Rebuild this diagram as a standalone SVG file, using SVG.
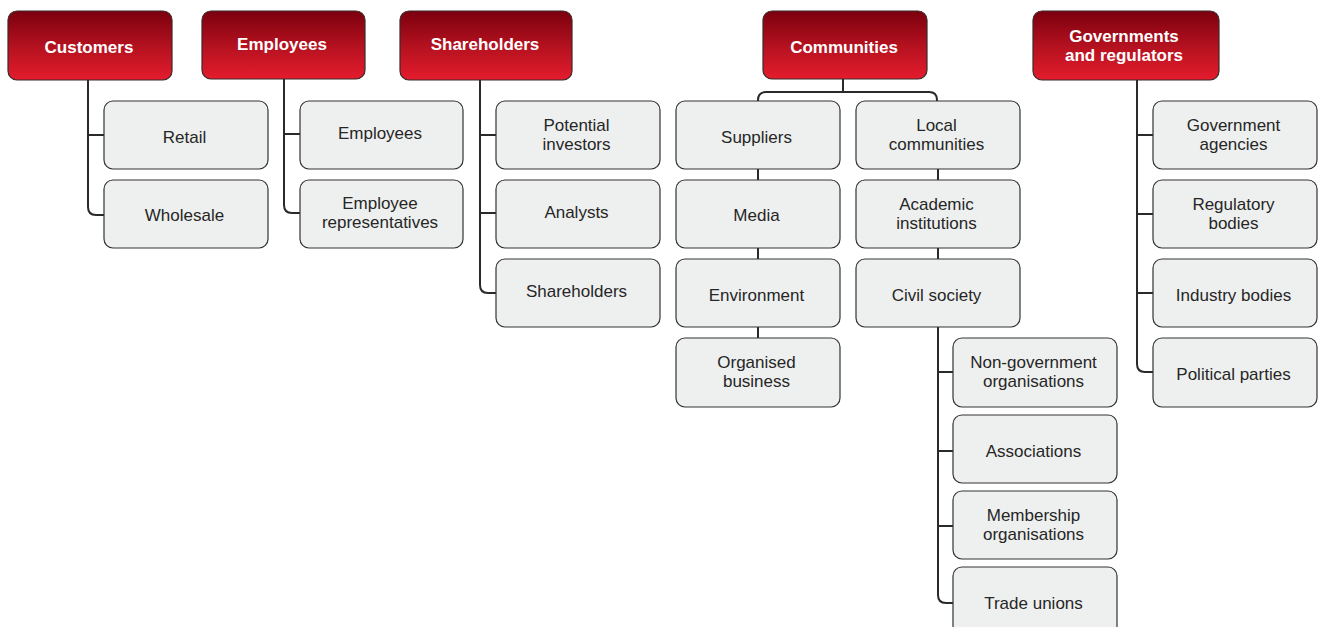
<svg xmlns="http://www.w3.org/2000/svg" width="1322" height="627" viewBox="0 0 1322 627">
  <defs>
    <linearGradient id="redGrad" x1="0" y1="0" x2="0" y2="1">
      <stop offset="0" stop-color="#7b000e"/>
      <stop offset="0.5" stop-color="#b3111f"/>
      <stop offset="1" stop-color="#e41c2d"/>
    </linearGradient>
    <style>
      .head rect { fill: url(#redGrad); stroke: #3a2a2a; stroke-width: 1.2; }
      .head text { fill: #ffffff; font-family: "Liberation Sans", Arial, sans-serif; font-weight: bold; font-size: 17px; text-anchor: middle; }
      .node rect { fill: #eef0ef; stroke: #333333; stroke-width: 1.2; }
      .node text { fill: #262626; font-family: "Liberation Sans", Arial, sans-serif; font-size: 17px; text-anchor: middle; }
      .conn path { fill: none; stroke: #2a2a2a; stroke-width: 2; }
    </style>
  </defs>
  <rect width="1322" height="627" fill="#ffffff"/>

  <!-- connectors -->
  <g class="conn" id="connectors">
    <!-- Customers -->
    <path d="M88 80 V207 Q88 215 96 215 H104"/>
    <path d="M88 135 H104"/>
    <!-- Employees -->
    <path d="M284 79 V205 Q284 213 292 213 H300"/>
    <path d="M284 134 H300"/>
    <!-- Shareholders -->
    <path d="M480 80 V285 Q480 293 488 293 H496"/>
    <path d="M480 135 H496"/>
    <path d="M480 213 H496"/>
    <!-- Communities -->
    <path d="M843 79 V92"/>
    <path d="M758 101 V100 Q758 92 766 92 H929 Q937 92 937 100 V101"/>
    <path d="M758 169 V180"/>
    <path d="M758 248 V259"/>
    <path d="M758 327 V338"/>
    <path d="M938 169 V180"/>
    <path d="M938 248 V259"/>
    <path d="M938 327 V595 Q938 603 946 603 H953"/>
    <path d="M938 372 H953"/>
    <path d="M938 451 H953"/>
    <path d="M938 526 H953"/>
    <!-- Governments and regulators -->
    <path d="M1137 80 V364 Q1137 372 1145 372 H1153"/>
    <path d="M1137 135 H1153"/>
    <path d="M1137 214 H1153"/>
    <path d="M1137 293 H1153"/>
  </g>

  <!-- headers -->
  <g class="head" id="customers">
    <rect x="8" y="11" width="164" height="69" rx="9"/>
    <text x="89" y="53">Customers</text>
  </g>
  <g class="head" id="employees">
    <rect x="202" y="11" width="163" height="68" rx="9"/>
    <text x="282" y="50">Employees</text>
  </g>
  <g class="head" id="shareholders">
    <rect x="400" y="11" width="172" height="69" rx="9"/>
    <text x="485" y="50">Shareholders</text>
  </g>
  <g class="head" id="communities">
    <rect x="763" y="11" width="164" height="68" rx="9"/>
    <text x="844" y="53">Communities</text>
  </g>
  <g class="head" id="governments">
    <rect x="1033" y="11" width="186" height="69" rx="9"/>
    <text x="1124" y="42">Governments</text>
    <text x="1124" y="61">and regulators</text>
  </g>

  <!-- Customers children -->
  <g class="node" id="retail">
    <rect x="104" y="101" width="164" height="68" rx="9"/>
    <text x="184.5" y="143">Retail</text>
  </g>
  <g class="node" id="wholesale">
    <rect x="104" y="180" width="164" height="68" rx="9"/>
    <text x="184.5" y="221">Wholesale</text>
  </g>

  <!-- Employees children -->
  <g class="node" id="employees-node">
    <rect x="300" y="101" width="163" height="68" rx="9"/>
    <text x="380" y="139">Employees</text>
  </g>
  <g class="node" id="employee-reps">
    <rect x="300" y="180" width="163" height="68" rx="9"/>
    <text x="380" y="209">Employee</text>
    <text x="380" y="228">representatives</text>
  </g>

  <!-- Shareholders children -->
  <g class="node" id="potential-investors">
    <rect x="496" y="101" width="164" height="68" rx="9"/>
    <text x="576.5" y="131">Potential</text>
    <text x="576.5" y="150">investors</text>
  </g>
  <g class="node" id="analysts">
    <rect x="496" y="180" width="164" height="68" rx="9"/>
    <text x="576.5" y="218">Analysts</text>
  </g>
  <g class="node" id="shareholders-node">
    <rect x="496" y="259" width="164" height="68" rx="9"/>
    <text x="576.5" y="297">Shareholders</text>
  </g>

  <!-- Communities left column -->
  <g class="node" id="suppliers">
    <rect x="676" y="101" width="164" height="68" rx="9"/>
    <text x="756.5" y="143">Suppliers</text>
  </g>
  <g class="node" id="media">
    <rect x="676" y="180" width="164" height="68" rx="9"/>
    <text x="756.5" y="221">Media</text>
  </g>
  <g class="node" id="environment">
    <rect x="676" y="259" width="164" height="68" rx="9"/>
    <text x="756.5" y="301">Environment</text>
  </g>
  <g class="node" id="organised-business">
    <rect x="676" y="338" width="164" height="69" rx="9"/>
    <text x="756.5" y="368">Organised</text>
    <text x="756.5" y="387">business</text>
  </g>

  <!-- Communities right column -->
  <g class="node" id="local-communities">
    <rect x="856" y="101" width="164" height="68" rx="9"/>
    <text x="936.5" y="131">Local</text>
    <text x="936.5" y="150">communities</text>
  </g>
  <g class="node" id="academic-institutions">
    <rect x="856" y="180" width="164" height="68" rx="9"/>
    <text x="936.5" y="210">Academic</text>
    <text x="936.5" y="229">institutions</text>
  </g>
  <g class="node" id="civil-society">
    <rect x="856" y="259" width="164" height="68" rx="9"/>
    <text x="936.5" y="301">Civil society</text>
  </g>

  <!-- Civil society children -->
  <g class="node" id="ngos">
    <rect x="953" y="338" width="164" height="69" rx="9"/>
    <text x="1033.5" y="368">Non-government</text>
    <text x="1033.5" y="387">organisations</text>
  </g>
  <g class="node" id="associations">
    <rect x="953" y="415" width="164" height="68" rx="9"/>
    <text x="1033.5" y="457">Associations</text>
  </g>
  <g class="node" id="membership-organisations">
    <rect x="953" y="491" width="164" height="68" rx="9"/>
    <text x="1033.5" y="521">Membership</text>
    <text x="1033.5" y="540">organisations</text>
  </g>
  <g class="node" id="trade-unions">
    <rect x="953" y="567" width="164" height="68" rx="9"/>
    <text x="1033.5" y="609">Trade unions</text>
  </g>

  <!-- Governments and regulators children -->
  <g class="node" id="government-agencies">
    <rect x="1153" y="101" width="164" height="68" rx="9"/>
    <text x="1233.5" y="131">Government</text>
    <text x="1233.5" y="150">agencies</text>
  </g>
  <g class="node" id="regulatory-bodies">
    <rect x="1153" y="180" width="164" height="68" rx="9"/>
    <text x="1233.5" y="210">Regulatory</text>
    <text x="1233.5" y="229">bodies</text>
  </g>
  <g class="node" id="industry-bodies">
    <rect x="1153" y="259" width="164" height="68" rx="9"/>
    <text x="1233.5" y="301">Industry bodies</text>
  </g>
  <g class="node" id="political-parties">
    <rect x="1153" y="338" width="164" height="69" rx="9"/>
    <text x="1233.5" y="380">Political parties</text>
  </g>
</svg>
